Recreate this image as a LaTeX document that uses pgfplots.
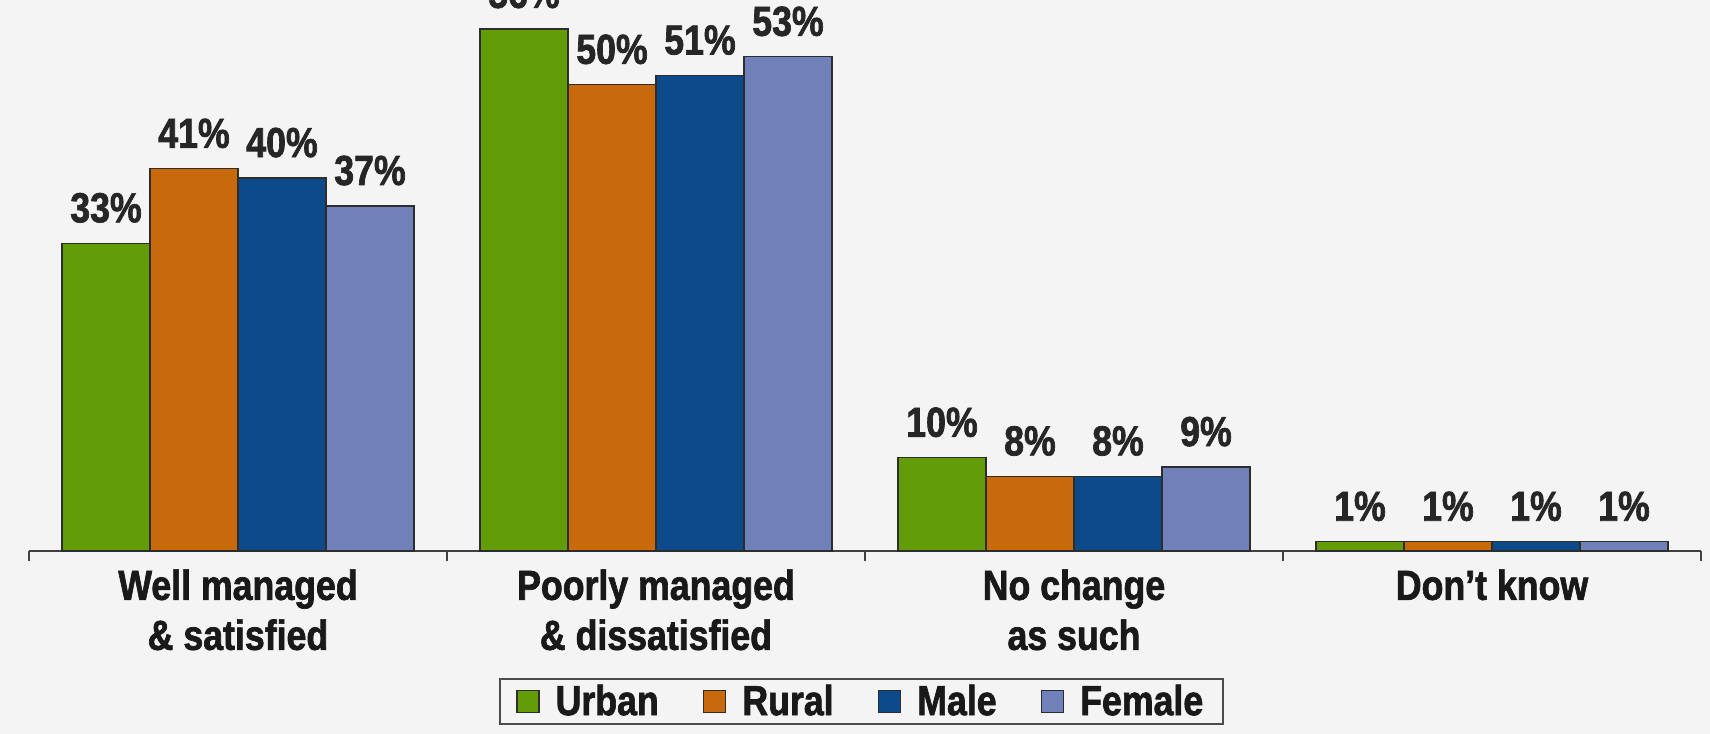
\documentclass[border=0pt]{standalone}
\usepackage{fontspec}
\setmainfont[FakeStretch=0.85, BoldFeatures={FakeBold=1.6}]{Liberation Sans}
\usepackage{pgfplots}
\pgfplotsset{compat=1.18}
\definecolor{bg}{RGB}{244,244,244}
\definecolor{cUrban}{RGB}{98,156,8}
\definecolor{cRural}{RGB}{200,105,12}
\definecolor{cMale}{RGB}{12,74,138}
\definecolor{cFemale}{RGB}{112,128,184}
\definecolor{edge}{RGB}{45,45,45}
\begin{document}
\begin{tikzpicture}
\useasboundingbox (-14.5pt,-91.5pt) rectangle (840.5pt,275.5pt);
\fill[bg] (-14.5pt,-91.5pt) rectangle (840.5pt,275.5pt);
\clip (-14.5pt,-91.5pt) rectangle (840.5pt,275.5pt);
\begin{axis}[
  scale only axis,
  width=836pt, height=275.5pt,
  xmin=-0.5, xmax=3.5,
  ymin=0, ymax=59.1,
  axis x line*=bottom,
  axis y line=none,
  x axis line style={draw=black!75, line width=1pt},
  ybar=0pt,
  bar width=44pt,
  xtick={0,1,2,3},
  xticklabels={{Well managed\\\& satisfied},{Poorly managed\\\& dissatisfied},{No change\\as such},{Don’t know}},
  minor xtick={-0.5,0.5,1.5,2.5,3.5},
  major tick length=0pt,
  minor tick length=5pt,
  xtick align=outside,
  every minor tick/.style={draw=black!75, line width=1pt},
  xticklabel style={align=center, font=\bfseries\fontsize{21}{25}\selectfont, text=black!90, inner sep=0pt, anchor=north, yshift=-9pt},
  /pgf/number format/assume math mode=true,
  nodes near coords={\pgfmathprintnumber{\pgfplotspointmeta}\%},
  every node near coord/.append style={font=\bfseries\fontsize{21}{24}\selectfont, text=black!85, inner sep=0pt, anchor=south, yshift=10pt},
  clip=false,
  legend columns=4,
  legend style={at={(0.498,-0.273)}, anchor=center, draw=black!70, line width=1.2pt, fill=bg,
    font=\bfseries\fontsize{21}{24}\selectfont, text=black!90, inner xsep=8pt, inner ysep=1pt,
    /tikz/every odd column/.append style={column sep=6pt},
    /tikz/every even column/.append style={column sep=20pt}},
  legend image code/.code={\draw[#1, draw=edge, line width=0.8pt] (0pt,-5.5pt) rectangle (11pt,5.5pt);},
]
\addplot[fill=cUrban, draw=edge, line width=0.6pt] coordinates {(0,33) (1,56) (2,10) (3,1)};
\addplot[fill=cRural, draw=edge, line width=0.6pt] coordinates {(0,41) (1,50) (2,8) (3,1)};
\addplot[fill=cMale, draw=edge, line width=0.6pt] coordinates {(0,40) (1,51) (2,8) (3,1)};
\addplot[fill=cFemale, draw=edge, line width=0.6pt] coordinates {(0,37) (1,53) (2,9) (3,1)};
\legend{Urban,Rural,Male,Female}
\end{axis}
\end{tikzpicture}
\end{document}
